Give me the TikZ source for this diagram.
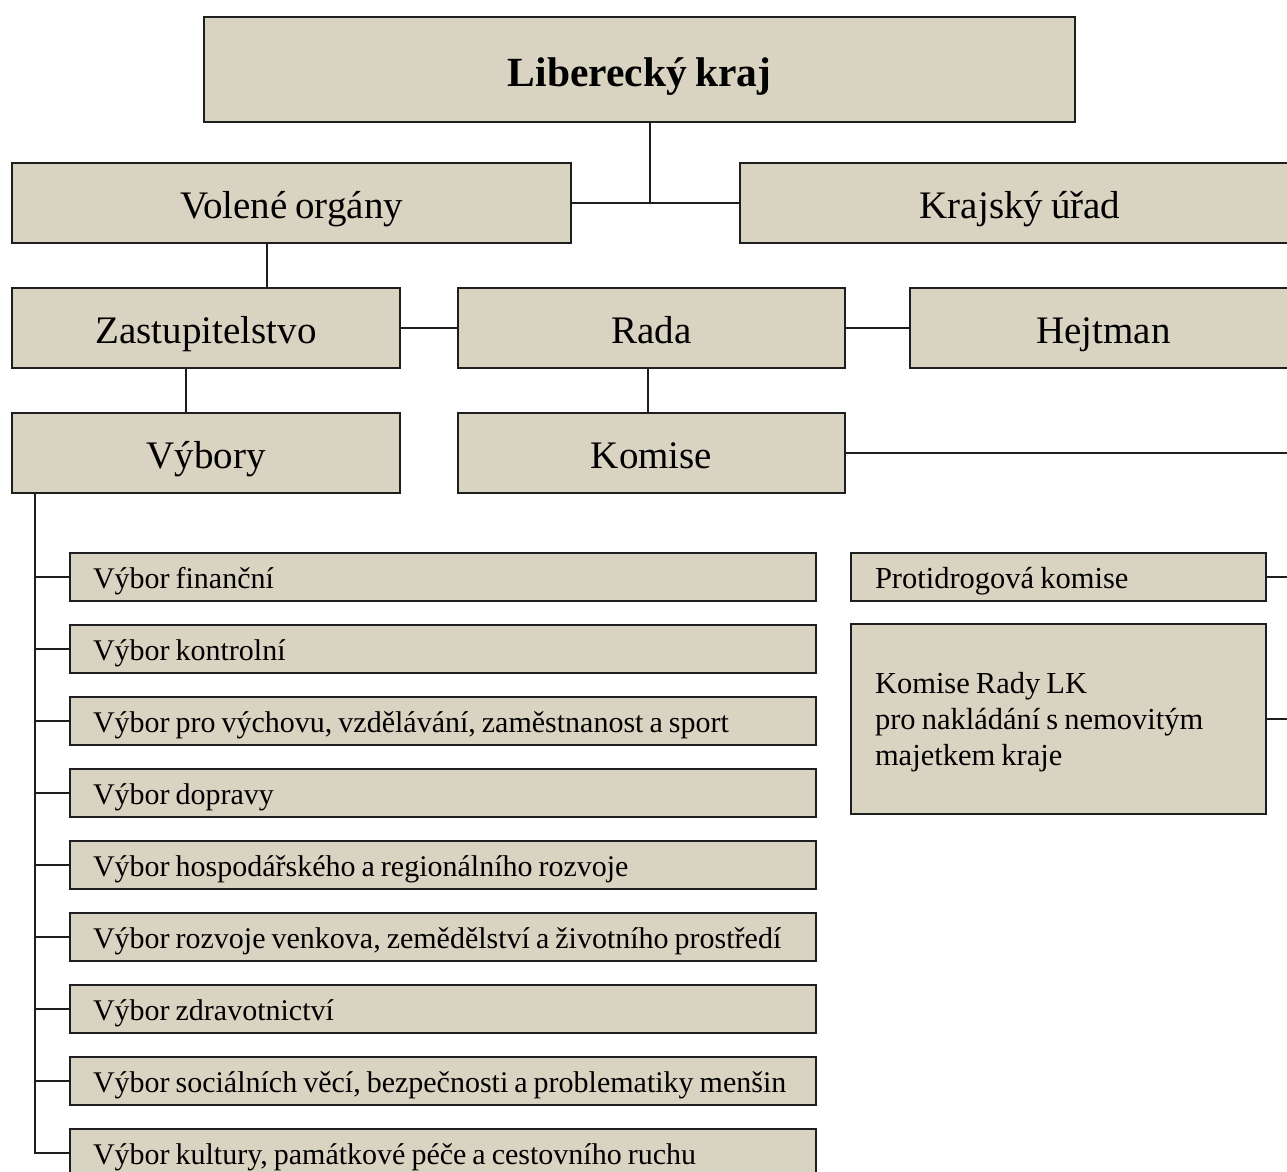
\documentclass[tikz,border=0pt]{standalone}
\usepackage{fontspec}
\setmainfont{Liberation Serif}[WordSpace=0.8]
\usetikzlibrary{positioning}

\definecolor{boxfill}{RGB}{217,211,193}
\definecolor{boxline}{RGB}{30,30,30}

\begin{document}
\begin{tikzpicture}[x=1pt,y=-1pt,
    every node/.style={draw=boxline,line width=1.5pt,fill=boxfill,inner sep=0pt},
    big/.style={minimum height=80pt,text height=40pt,text depth=9pt,
        font=\fontsize{39}{46}\selectfont},
    item/.style={minimum width=746pt,minimum height=48pt,text width=700pt,
        text height=28pt,text depth=6pt,align=flush left,font=\fontsize{30}{36}\selectfont},
    side/.style={minimum width=415pt,text width=367pt,align=flush left,
        font=\fontsize{30.5}{36}\selectfont},
    link/.style={line width=1.5pt,boxline}]
    %
    \useasboundingbox (0,0) rectangle (1287,1171);
    \clip (0,0) rectangle (1287,1171);
    %
    \node[minimum width=871pt,minimum height=105pt,text height=42pt,text depth=9pt,
        font=\fontsize{41.5}{48}\selectfont\bfseries] (kraj) at (639.5,69.5) {Liberecký kraj};
    \node[big,minimum width=559pt] (volene) at (291.5,203) {Volené orgány};
    \node[big,minimum width=560pt] (urad) at (1020,203) {Krajský úřad};
    %
    \node[big,minimum width=388pt] (zast) at (206,328) {Zastupitelstvo};
    \node[big,minimum width=387pt] (rada) at (651.5,328) {Rada};
    \node[big,minimum width=387pt] (hejtman) at (1103.5,328) {Hejtman};
    \node[big,minimum width=388pt] (vybory) at (206,453) {Výbory};
    \node[big,minimum width=387pt] (komise) at (651.5,453) {Komise};
    %
    \node[item] (v1) at (443,577) {Výbor finanční};
    \node[item] (v2) at (443,649) {Výbor kontrolní};
    \node[item] (v3) at (443,721) {Výbor pro výchovu, vzdělávání, zaměstnanost a sport};
    \node[item] (v4) at (443,793) {Výbor dopravy};
    \node[item] (v5) at (443,865) {Výbor hospodářského a regionálního rozvoje};
    \node[item] (v6) at (443,937) {Výbor rozvoje venkova, zemědělství a životního prostředí};
    \node[item] (v7) at (443,1009) {Výbor zdravotnictví};
    \node[item] (v8) at (443,1081) {Výbor sociálních věcí, bezpečnosti a problematiky menšin};
    \node[item] (v9) at (443,1153) {Výbor kultury, památkové péče a cestovního ruchu};
    %
    \node[side,minimum height=48pt,text height=28pt,text depth=6pt] (drogy) at (1058.5,577)
        {Protidrogová komise};
    \node[side,minimum height=190pt,text height=28pt] (majetek) at (1058.5,719)
        {Komise Rady LK\\pro nakládání s nemovitým\\majetkem kraje};
    %
    \coordinate (split) at (650,0);
    \coordinate (vdrop) at (267,0);
    \coordinate (zdrop) at (186,0);
    \coordinate (rdrop) at (648,0);
    \coordinate (spine) at (35,0);
    \coordinate (rail) at (1300,0);
    %
    \draw[link] (volene.east) -- (urad.west);
    \draw[link] (kraj.south -| split) -- (volene.east -| split);
    \draw[link] (volene.south -| vdrop) -- (zast.north -| vdrop);
    \draw[link] (zast.east) -- (rada.west);
    \draw[link] (rada.east) -- (hejtman.west);
    \draw[link] (zast.south -| zdrop) -- (vybory.north -| zdrop);
    \draw[link] (rada.south -| rdrop) -- (komise.north -| rdrop);
    %
    \draw[link] (vybory.south -| spine) |- (v9.west);
    \foreach \i in {1,...,8}
        \draw[link] (v\i.west -| spine) -- (v\i.west);
    %
    \draw[link] (komise.east) -| (majetek.east -| rail) -- (majetek.east);
    \draw[link] (drogy.east) -- (drogy.east -| rail);
    %
\end{tikzpicture}
\end{document}
